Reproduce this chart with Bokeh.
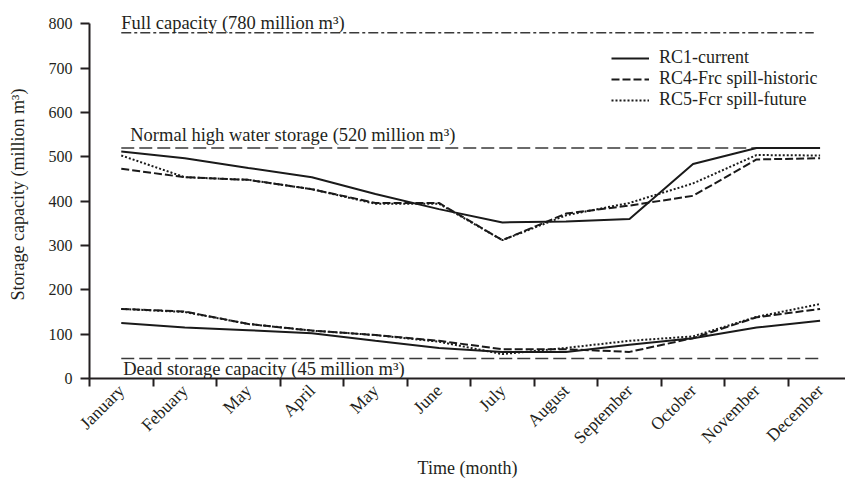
import math
from bokeh.plotting import figure
from bokeh.models import Range1d, FixedTicker, Label, Legend, LegendItem
from bokeh.embed import file_html
from bokeh.resources import INLINE

months = ["January", "Febuary", "May", "April", "May", "June", "July",
          "August", "September", "October", "November", "December"]
rc1_upper = [512, 497, 475, 454, 416, 382, 352, 354, 360, 484, 520, 520]
rc4_upper = [473, 454, 448, 427, 396, 396, 312, 372, 390, 412, 494, 497]
rc5_upper = [503, 454, 448, 427, 394, 394, 312, 368, 396, 440, 504, 503]
rc1_lower = [125, 115, 109, 102, 85, 69, 60, 60, 76, 91, 115, 130]
rc4_lower = [157, 151, 123, 108, 98, 85, 66, 66, 60, 91, 138, 157]
rc5_lower = [157, 150, 123, 108, 98, 83, 55, 69, 85, 95, 139, 168]
full_capacity = 780
normal_high = 520
dead_storage = 45
y_ticks = [0, 100, 200, 300, 400, 500, 600, 700, 800]

FONT = "Liberation Serif"
INK = "#231f20"

x = list(range(len(months)))
boundaries = [i - 0.5 for i in x]

p = figure(width=845, height=480, x_range=Range1d(-0.5, 11.4), y_range=Range1d(0, 830),
           output_backend="svg", toolbar_location=None,
           min_border_left=89, min_border_right=0, min_border_top=10, min_border_bottom=102)
p.xgrid.visible = False
p.ygrid.visible = False
p.outline_line_color = None
p.background_fill_color = "white"

# x axis
p.xaxis.ticker = FixedTicker(ticks=x, minor_ticks=boundaries)
p.xaxis.major_label_overrides = {i: m for i, m in enumerate(months)}
p.xaxis.major_label_orientation = math.pi / 4
p.xaxis.major_tick_out = 0
p.xaxis.major_tick_in = 0
p.xaxis.minor_tick_out = 8
p.xaxis.minor_tick_in = 0
p.xaxis.minor_tick_line_color = INK
p.xaxis.minor_tick_line_width = 2
p.xaxis.major_label_standoff = 1
p.xaxis.axis_label = "Time (month)"
p.xaxis.axis_label_standoff = 0

# y axis
p.yaxis.ticker = FixedTicker(ticks=y_ticks)
p.yaxis.bounds = (y_ticks[0], y_ticks[-1])
p.yaxis.major_tick_out = 9
p.yaxis.major_tick_in = 0
p.yaxis.minor_tick_out = 0
p.yaxis.minor_tick_in = 0
p.yaxis.major_tick_line_width = 2
p.yaxis.major_tick_line_color = INK
p.yaxis.axis_label = "Storage capacity (million m³)"
p.yaxis.axis_label_standoff = 18
p.yaxis.major_label_standoff = 8

for ax in (p.xaxis, p.yaxis):
    ax.axis_line_width = 2
    ax.axis_line_color = INK
    ax.major_label_text_font = FONT
    ax.major_label_text_color = INK
    ax.axis_label_text_font = FONT
    ax.axis_label_text_font_style = "normal"
    ax.axis_label_text_color = INK
    ax.axis_label_text_font_size = "18px"
p.xaxis.major_label_text_font_size = "17.5px"
p.yaxis.major_label_text_font_size = "16px"

# reference lines
ref_color = "#3a3a3a"
p.line([x[0], 10.9], [full_capacity] * 2, line_color=ref_color, line_width=1.5, line_dash="10 3 3 3")
p.line([x[0], x[-1]], [normal_high] * 2, line_color=ref_color, line_width=1.5, line_dash="13 5")
p.line([x[0], x[-1]], [dead_storage] * 2, line_color=ref_color, line_width=1.5, line_dash="13 5")

# data lines
c = "#1a1a1a"
r1 = p.line(x, rc1_upper, line_color=c, line_width=2)
p.line(x, rc1_lower, line_color=c, line_width=2)
r4 = p.line(x, rc4_upper, line_color=c, line_width=2, line_dash="8 3")
p.line(x, rc4_lower, line_color=c, line_width=2, line_dash="8 3")
r5 = p.line(x, rc5_upper, line_color=c, line_width=2, line_dash="2 2")
p.line(x, rc5_lower, line_color=c, line_width=2, line_dash="2 2")

legend = Legend(items=[LegendItem(label="RC1-current", renderers=[r1]),
                       LegendItem(label="RC4-Frc spill-historic", renderers=[r4]),
                       LegendItem(label="RC5-Fcr spill-future", renderers=[r5])],
                location=(522, 268), padding=0, margin=0, spacing=0,
                glyph_width=38, glyph_height=20, label_height=20, label_standoff=10,
                label_text_font=FONT, label_text_font_size="18px", label_text_color=INK,
                border_line_color=None, background_fill_alpha=0)
p.add_layout(legend)

lbl_kw = dict(text_font=FONT, text_font_size="18.5px", text_color=INK, text_baseline="alphabetic")
p.add_layout(Label(x=x[0], y=full_capacity, y_offset=10, text="Full capacity (780 million m³)", **lbl_kw))
p.add_layout(Label(x=x[0], y=normal_high, x_offset=9, y_offset=12.5,
                   text="Normal high water storage (520 million m³)", **lbl_kw))
p.add_layout(Label(x=x[0], y=dead_storage, x_offset=2, y_offset=-10,
                   text="Dead storage capacity (45 million m³)", **lbl_kw))

open("out.html", "w").write(file_html(p, INLINE))
